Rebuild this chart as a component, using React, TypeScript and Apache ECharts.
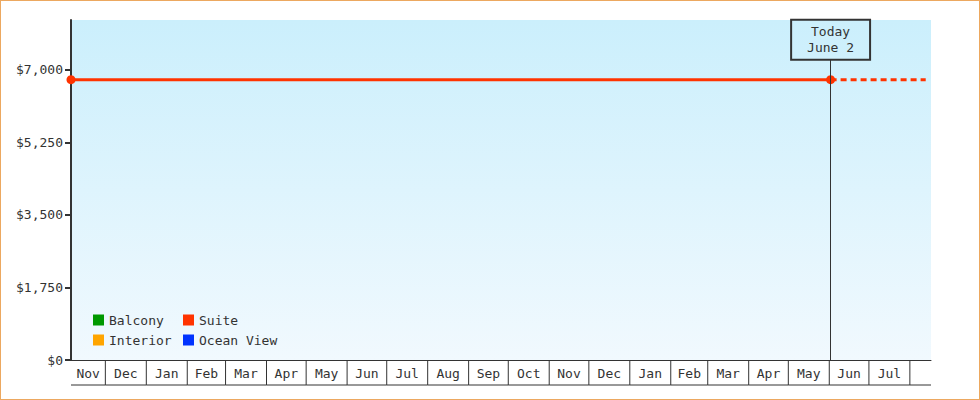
import { useEffect, useRef } from 'react';
import * as echarts from 'echarts';

// price history (Suite) and its projection after today
const suiteDates = ['2023-11-05', '2025-06-02'];
const suiteValues = [6760, 6760];
const projectedDates = ['2025-06-02', '2025-08-13'];
const projectedValues = [6760, 6760];

const legendNames = ['Balcony', 'Suite', 'Interior', 'Ocean View'];
const legendColors = ['#009900', '#ff3300', '#ffa500', '#0033ff'];

const yTicks = [0, 1750, 3500, 5250, 7000];
const yMax = 8200;
const xMin = '2023-11-05';
const xMax = '2025-08-17';

const today = '2025-06-02';
const todayLabel = 'Today\nJune 2';
const todayTop = 7240;

const monthStarts = [
  '2023-11-01', '2023-12-01', '2024-01-01', '2024-02-01', '2024-03-01', '2024-04-01',
  '2024-05-01', '2024-06-01', '2024-07-01', '2024-08-01', '2024-09-01', '2024-10-01',
  '2024-11-01', '2024-12-01', '2025-01-01', '2025-02-01', '2025-03-01', '2025-04-01',
  '2025-05-01', '2025-06-01', '2025-07-01', '2025-08-01', '2025-09-01',
];
const monthLabels = [
  'Nov', 'Dec', 'Jan', 'Feb', 'Mar', 'Apr', 'May', 'Jun', 'Jul', 'Aug', 'Sep', 'Oct',
  'Nov', 'Dec', 'Jan', 'Feb', 'Mar', 'Apr', 'May', 'Jun', 'Jul', 'Aug',
];

const FONT = '"DejaVu Sans Mono", monospace';
const INK = '#333';

export default function App() {
  const ref = useRef<HTMLDivElement>(null);

  useEffect(() => {
    if (!ref.current) return;
    const chart = echarts.init(ref.current, null, { renderer: 'svg' });

    const monthCells = monthLabels.map((_, i) => [monthStarts[i], monthStarts[i + 1]]);

    const option: echarts.EChartsOption = {
      animation: false,
      textStyle: { fontFamily: FONT, color: INK },
      grid: {
        left: 71,
        right: 49,
        top: 20,
        bottom: 40,
        show: true,
        borderWidth: 0,
        backgroundColor: new echarts.graphic.LinearGradient(0, 0, 0, 1, [
          { offset: 0, color: '#cbeffc' },
          { offset: 1, color: '#f1f9fe' },
        ]),
      },
      legend: {
        data: legendNames,
        left: 93,
        top: 310,
        width: 185,
        padding: 0,
        itemGap: 0,
        itemWidth: 11,
        itemHeight: 11,
        icon: 'rect',
        textStyle: {
          fontFamily: FONT,
          fontSize: 13,
          color: INK,
          width: 74,
          lineHeight: 20,
        },
      },
      xAxis: {
        type: 'time',
        min: xMin,
        max: xMax,
        axisLine: { show: true, lineStyle: { color: INK, width: 1 } },
        axisTick: { show: false },
        axisLabel: { show: false },
        splitLine: { show: false },
      },
      yAxis: {
        type: 'value',
        min: 0,
        max: yMax,
        axisLine: { show: true, lineStyle: { color: INK, width: 2 } },
        axisTick: {
          show: true,
          length: 6,
          customValues: yTicks,
          lineStyle: { color: INK, width: 2 },
        },
        axisLabel: {
          customValues: yTicks,
          margin: 8,
          fontFamily: FONT,
          fontSize: 13,
          color: INK,
          formatter: (v: number) => '$' + v.toLocaleString('en-US'),
        },
        splitLine: { show: false },
      },
      series: [
        {
          name: 'Balcony',
          type: 'line',
          data: [],
          itemStyle: { color: legendColors[0] },
        },
        {
          name: 'Suite',
          type: 'line',
          data: suiteDates.map((d, i) => [d, suiteValues[i]]),
          symbol: 'circle',
          symbolSize: 9,
          showAllSymbol: true,
          itemStyle: { color: legendColors[1] },
          lineStyle: { color: legendColors[1], width: 3 },
          z: 3,
          markLine: {
            silent: true,
            symbol: 'none',
            lineStyle: { color: INK, width: 1, type: 'solid' },
            label: {
              show: true,
              position: 'end',
              distance: 0,
              formatter: todayLabel,
              fontFamily: FONT,
              fontSize: 13,
              lineHeight: 16,
              color: INK,
              padding: [4, 16, 4, 16],
              borderColor: INK,
              borderWidth: 1,
              backgroundColor: 'transparent',
            },
            data: [[{ coord: [today, 0] }, { coord: [today, todayTop] }]],
          },
        },
        {
          name: 'Suite',
          type: 'line',
          data: projectedDates.map((d, i) => [d, projectedValues[i]]),
          symbol: 'none',
          itemStyle: { color: legendColors[1] },
          lineStyle: { color: legendColors[1], width: 3, type: [6, 4] },
          z: 2,
        },
        {
          name: 'Interior',
          type: 'line',
          data: [],
          itemStyle: { color: legendColors[2] },
        },
        {
          name: 'Ocean View',
          type: 'line',
          data: [],
          itemStyle: { color: legendColors[3] },
        },
        {
          name: 'months',
          type: 'custom',
          silent: true,
          clip: false,
          encode: { x: [0, 1] },
          data: monthCells,
          renderItem: (params: any, api: any) => {
            const cs = params.coordSys;
            const left = cs.x;
            const right = cs.x + cs.width;
            const y0 = cs.y + cs.height;
            const y1 = y0 + 25;
            const rawStart = api.coord([api.value(0), 0])[0];
            const rawEnd = api.coord([api.value(1), 0])[0];
            const xs = Math.max(rawStart, left);
            const xe = Math.min(rawEnd, right);
            if (xe <= xs) return null;
            const children: any[] = [
              {
                type: 'line',
                shape: { x1: xs, y1, x2: xe, y2: y1 },
                style: { stroke: INK, lineWidth: 1 },
              },
            ];
            if (rawStart >= left) {
              children.push({
                type: 'line',
                shape: { x1: xs, y1: y0, x2: xs, y2: y1 },
                style: { stroke: INK, lineWidth: 1 },
              });
            }
            if (xe - xs >= 30) {
              children.push({
                type: 'text',
                style: {
                  text: monthLabels[params.dataIndex],
                  x: (xs + xe) / 2,
                  y: y0 + 13,
                  align: 'center',
                  verticalAlign: 'middle',
                  fill: INK,
                  fontSize: 13,
                  fontFamily: FONT,
                },
              });
            }
            return { type: 'group', children };
          },
        },
      ],
    };

    chart.setOption(option);
    return () => chart.dispose();
  }, []);

  return (
    <div style={{ position: 'fixed', left: 0, top: 0, width: 980, height: 400, background: '#fff' }}>
      <div ref={ref} style={{ position: 'absolute', left: 0, top: 0, width: 980, height: 400 }} />
      <div
        style={{
          position: 'absolute',
          left: 0,
          top: 0,
          width: 980,
          height: 400,
          boxSizing: 'border-box',
          border: '1px solid #eca860',
          pointerEvents: 'none',
        }}
      />
    </div>
  );
}
